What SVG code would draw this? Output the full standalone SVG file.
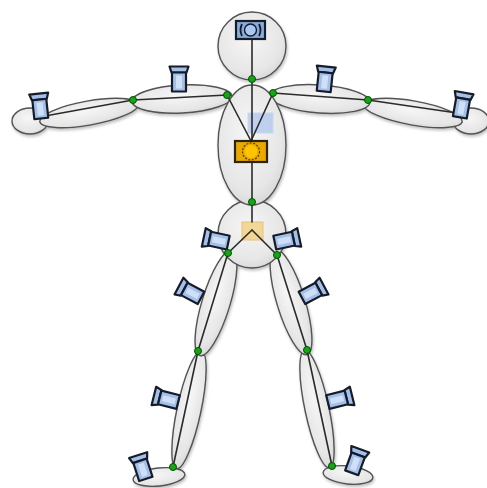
<svg xmlns="http://www.w3.org/2000/svg" xmlns:xlink="http://www.w3.org/1999/xlink" width="487" height="488" viewBox="0 0 487 488">
  <style>
    .seg { fill: url(#segFill); stroke: #525252; stroke-width: 1.4; }
    .bone { stroke: #2b2b2b; stroke-width: 1.6; fill: none; stroke-linecap: round; }
    .joint { fill: #12a812; stroke: #064a06; stroke-width: 1; }
    .ib { fill: #a3c0ea; stroke: #161b28; stroke-width: 2.2; stroke-linejoin: round; }
  </style>
  <defs>
    <radialGradient id="segFill" cx="0.45" cy="0.4" r="0.7">
      <stop offset="0" stop-color="#f6f6f6"/>
      <stop offset="0.7" stop-color="#e6e6e6"/>
      <stop offset="1" stop-color="#d0d0d0"/>
    </radialGradient>
    <filter id="soft" x="-20%" y="-20%" width="140%" height="140%">
      <feGaussianBlur in="SourceAlpha" stdDeviation="1.5"/>
      <feOffset dx="1" dy="1.5" result="b"/>
      <feComponentTransfer><feFuncA type="linear" slope="0.25"/></feComponentTransfer>
      <feMerge><feMergeNode/><feMergeNode in="SourceGraphic"/></feMerge>
    </filter>
    <!-- sensor: lens cap on top, body below, centred on the origin -->
    <g id="cam">
      <path class="ib" d="M-9.5,-12.5 H9.5 L7.5,-6.5 H-7.5 Z"/>
      <rect class="ib" x="-7" y="-6.5" width="14" height="19"/>
      <rect x="-3" y="-3.5" width="6" height="13" fill="#cfdff6"/>
    </g>
  </defs>

  <!-- body segments -->
  <g id="segments" filter="url(#soft)">
    <g id="foot-left"><ellipse class="seg" cx="159" cy="477" rx="26" ry="9" transform="rotate(-6 159 477)"/></g>
    <g id="foot-right"><ellipse class="seg" cx="348" cy="475" rx="25" ry="9" transform="rotate(6 348 475)"/></g>
    <g id="shin-left"><ellipse class="seg" cx="189" cy="410" rx="12" ry="60" transform="rotate(12 189 410)"/></g>
    <g id="shin-right"><ellipse class="seg" cx="317" cy="409" rx="12" ry="60" transform="rotate(-12 317 409)"/></g>
    <g id="thigh-left"><ellipse class="seg" cx="216" cy="303" rx="14" ry="55" transform="rotate(17 216 303)"/></g>
    <g id="thigh-right"><ellipse class="seg" cx="291" cy="302" rx="14" ry="55" transform="rotate(-17 291 302)"/></g>
    <g id="pelvis"><circle class="seg" cx="252" cy="234" r="34"/></g>
    <g id="hand-left"><ellipse class="seg" cx="30" cy="121" rx="18" ry="13"/></g>
    <g id="hand-right"><ellipse class="seg" cx="471" cy="121" rx="18" ry="13"/></g>
    <g id="forearm-left"><ellipse class="seg" cx="89" cy="113" rx="50" ry="12" transform="rotate(-10 89 113)"/></g>
    <g id="forearm-right"><ellipse class="seg" cx="413" cy="113" rx="50" ry="12" transform="rotate(10 413 113)"/></g>
    <g id="upperarm-left"><ellipse class="seg" cx="182" cy="99" rx="50" ry="14" transform="rotate(-3 182 99)"/></g>
    <g id="upperarm-right"><ellipse class="seg" cx="320" cy="99" rx="50" ry="14" transform="rotate(4 320 99)"/></g>
    <g id="head"><circle class="seg" cx="252" cy="46" r="34"/></g>
    <g id="torso"><ellipse class="seg" cx="252" cy="145" rx="34" ry="60"/></g>
  </g>

  <!-- markers drawn on the torso and pelvis -->
  <g id="torso-marker">
    <rect x="248" y="113" width="25" height="20" fill="#adc6ec" fill-opacity="0.75" stroke="#c8d8f0" stroke-width="1"/>
  </g>
  <g id="pelvis-marker">
    <rect x="242" y="222" width="21" height="18" fill="#f2cf80" fill-opacity="0.8" stroke="#e6c27a" stroke-width="1"/>
  </g>

  <!-- skeleton connectors -->
  <g id="connectors">
    <line class="bone" x1="252" y1="39" x2="252" y2="202"/>
    <line class="bone" x1="227" y1="95" x2="251" y2="141"/>
    <line class="bone" x1="273" y1="93" x2="251" y2="141"/>
    <line class="bone" x1="227" y1="95" x2="133" y2="100"/>
    <line class="bone" x1="133" y1="100" x2="45" y2="116"/>
    <line class="bone" x1="273" y1="93" x2="368" y2="100"/>
    <line class="bone" x1="368" y1="100" x2="457" y2="113"/>
    <line class="bone" x1="252" y1="202" x2="252" y2="222"/>
    <line class="bone" x1="252" y1="230" x2="228" y2="253"/>
    <line class="bone" x1="252" y1="230" x2="277" y2="255"/>
    <line class="bone" x1="228" y1="253" x2="198" y2="351"/>
    <line class="bone" x1="198" y1="351" x2="173" y2="467"/>
    <line class="bone" x1="277" y1="255" x2="307" y2="350"/>
    <line class="bone" x1="307" y1="350" x2="332" y2="466"/>
  </g>

  <!-- head sensor -->
  <g id="head-sensor">
    <rect x="236" y="21" width="29" height="18" fill="#8aacdb" stroke="#161b28" stroke-width="2.2"/>
    <path d="M242,24 Q239,30 242,36 M259,24 Q262,30 259,36" fill="none" stroke="#161b28" stroke-width="1.8"/>
    <circle cx="250.5" cy="30" r="6" fill="#a9c9f2" stroke="#161b28" stroke-width="1.4"/>
  </g>

  <!-- chest sensor -->
  <g id="chest-sensor">
    <rect x="235" y="141" width="32" height="21" fill="#e9a900" stroke="#2a2410" stroke-width="2.2"/>
    <circle cx="251" cy="151.5" r="8.5" fill="none" stroke="#4a3a00" stroke-width="1.2" stroke-dasharray="2 1.5"/>
    <circle cx="251" cy="151.5" r="6.5" fill="#ffc400"/>
  </g>

  <!-- limb sensors -->
  <g id="sensors">
    <use xlink:href="#cam" transform="translate(179 79)"/>
    <use xlink:href="#cam" transform="translate(40 106) rotate(-6)"/>
    <use xlink:href="#cam" transform="translate(325 79) rotate(6)"/>
    <use xlink:href="#cam" transform="translate(462 105) rotate(10)"/>
    <use xlink:href="#cam" transform="translate(216 240) rotate(-78)"/>
    <use xlink:href="#cam" transform="translate(287 240) rotate(78)"/>
    <use xlink:href="#cam" transform="translate(190 292) rotate(-62)"/>
    <use xlink:href="#cam" transform="translate(313 292) rotate(62)"/>
    <use xlink:href="#cam" transform="translate(166 399) rotate(-76)"/>
    <use xlink:href="#cam" transform="translate(340 399) rotate(76)"/>
    <use xlink:href="#cam" transform="translate(142 467) rotate(-18)"/>
    <use xlink:href="#cam" transform="translate(356 461) rotate(20)"/>
  </g>

  <!-- joints -->
  <g id="joints">
    <circle class="joint" cx="252" cy="79" r="3.5"/>
    <circle class="joint" cx="227" cy="95" r="3.5"/>
    <circle class="joint" cx="273" cy="93" r="3.5"/>
    <circle class="joint" cx="133" cy="100" r="3.5"/>
    <circle class="joint" cx="368" cy="100" r="3.5"/>
    <circle class="joint" cx="252" cy="202" r="3.5"/>
    <circle class="joint" cx="228" cy="253" r="3.5"/>
    <circle class="joint" cx="277" cy="255" r="3.5"/>
    <circle class="joint" cx="198" cy="351" r="3.5"/>
    <circle class="joint" cx="307" cy="350" r="3.5"/>
    <circle class="joint" cx="173" cy="467" r="3.5"/>
    <circle class="joint" cx="332" cy="466" r="3.5"/>
  </g>
</svg>
